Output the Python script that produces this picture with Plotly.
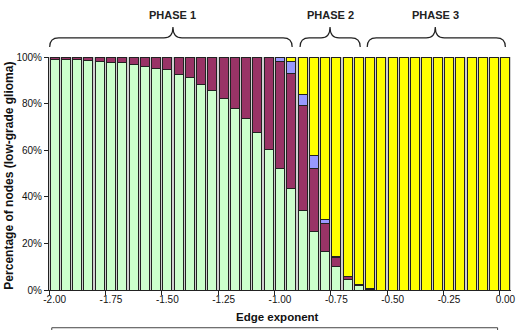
import plotly.graph_objects as go

# ---- data ----
edge_exponent = [-2.00, -1.95, -1.90, -1.85, -1.80, -1.75, -1.70, -1.65, -1.60, -1.55,
                 -1.50, -1.45, -1.40, -1.35, -1.30, -1.25, -1.20, -1.15, -1.10, -1.05,
                 -1.00, -0.95, -0.90, -0.85, -0.80, -0.75, -0.70, -0.65, -0.60, -0.55,
                 -0.50, -0.45, -0.40, -0.35, -0.30, -0.25, -0.20, -0.15, -0.10, -0.05,
                 0.00]

series_green = [99.0, 99.0, 99.0, 98.4, 98.0, 97.7, 97.7, 96.9, 95.8, 95.1,
                94.5, 92.7, 91.0, 88.4, 85.8, 82.1, 78.1, 73.4, 67.5, 60.3,
                52.1, 43.6, 34.3, 25.0, 16.5, 10.0, 4.6, 1.9, 0.3, 0.0,
                0.0, 0.0, 0.0, 0.0, 0.0, 0.0, 0.0, 0.0, 0.0, 0.0, 0.0]
series_maroon = [1.0, 1.0, 1.0, 1.6, 2.0, 2.3, 2.3, 3.1, 4.2, 4.9,
                 5.5, 7.3, 9.0, 11.6, 14.2, 17.9, 21.9, 26.6, 32.5, 39.4,
                 46.1, 49.2, 45.1, 27.2, 12.1, 3.9, 1.2, 0.6, 0.4, 0.0,
                 0.0, 0.0, 0.0, 0.0, 0.0, 0.0, 0.0, 0.0, 0.0, 0.0, 0.0]
series_blue = [0.0, 0.0, 0.0, 0.0, 0.0, 0.0, 0.0, 0.0, 0.0, 0.0,
               0.0, 0.0, 0.0, 0.0, 0.0, 0.0, 0.0, 0.0, 0.0, 0.3,
               1.8, 5.4, 4.3, 5.7, 1.7, 0.3, 0.0, 0.0, 0.0, 0.0,
               0.0, 0.0, 0.0, 0.0, 0.0, 0.0, 0.0, 0.0, 0.0, 0.0, 0.0]
series_yellow = [0.0, 0.0, 0.0, 0.0, 0.0, 0.0, 0.0, 0.0, 0.0, 0.0,
                 0.0, 0.0, 0.0, 0.0, 0.0, 0.0, 0.0, 0.0, 0.0, 0.0,
                 0.0, 1.8, 16.3, 42.1, 69.7, 85.8, 94.2, 97.5, 99.3, 100.0,
                 100.0, 100.0, 100.0, 100.0, 100.0, 100.0, 100.0, 100.0, 100.0, 100.0, 100.0]

tick_values = [-2.00, -1.75, -1.50, -1.25, -1.00, -0.75, -0.50, -0.25, 0.00]
tick_labels = ["-2.00", "-1.75", "-1.50", "-1.25", "-1.00", "-0.75", "-0.50", "-0.25", "0.00"]
y_tick_values = [0, 20, 40, 60, 80, 100]
y_tick_labels = ["0%", "20%", "40%", "60%", "80%", "100%"]

phases = ["PHASE 1", "PHASE 2", "PHASE 3"]
# brace spans in x-axis units (left, right, centre)
phase_spans = [(-2.022, -0.946, -1.475), (-0.911, -0.644, -0.778), (-0.613, 0.000, -0.311)]

FONT = "Liberation Sans, Arial, sans-serif"
colors = ["#ccffcc", "#993366", "#9999ff", "#ffff00"]

fig = go.Figure()
for vals, col in zip([series_green, series_maroon, series_blue, series_yellow], colors):
    fig.add_trace(go.Bar(
        x=edge_exponent, y=vals,
        marker=dict(color=col, line=dict(color="#222222", width=1)),
        showlegend=False,
    ))

# braces
y_end, y_flat, y_peak = 1.043, 1.082, 1.129
dx = 0.04
shapes = []
for (x0, x1, xm) in phase_spans:
    path = (f"M {x0},{y_end} Q {x0},{y_flat} {x0+dx},{y_flat} "
            f"L {xm-dx},{y_flat} Q {xm},{y_flat} {xm},{y_peak} "
            f"Q {xm},{y_flat} {xm+dx},{y_flat} "
            f"L {x1-dx},{y_flat} Q {x1},{y_flat} {x1},{y_end}")
    shapes.append(dict(type="path", path=path, xref="x", yref="paper",
                       line=dict(color="#222222", width=1.2)))

# legend box (cut off at bottom)
shapes.append(dict(type="rect", xref="paper", yref="paper",
                   x0=0.006, x1=0.971, y0=-0.162, y1=-0.5,
                   line=dict(color="#444444", width=1), fillcolor="rgba(0,0,0,0)"))

annotations = []
for name, (x0, x1, xm) in zip(phases, phase_spans):
    annotations.append(dict(text=f"<b>{name}</b>", x=xm, y=1.180, xref="x", yref="paper",
                            showarrow=False, font=dict(family=FONT, size=11, color="#222222"),
                            xanchor="center", yanchor="middle"))
annotations.append(dict(text="<b>Edge exponent</b>", x=0.495, y=-0.115, xref="paper", yref="paper",
                        showarrow=False, font=dict(family=FONT, size=11.5, color="#111111"),
                        xanchor="center", yanchor="middle"))
annotations.append(dict(text="<b>Percentage of nodes (low-grade glioma)</b>", x=-0.087, y=0.49,
                        xref="paper", yref="paper", textangle=-90,
                        showarrow=False, font=dict(family=FONT, size=12, color="#111111"),
                        xanchor="center", yanchor="middle"))

fig.update_layout(
    width=518, height=330,
    margin=dict(l=49, r=7, t=57, b=40, autoexpand=False),
    barmode="stack", bargap=0.2,
    plot_bgcolor="#d0d0d0", paper_bgcolor="white",
    shapes=shapes, annotations=annotations,
    xaxis=dict(range=[-2.025, 0.025], tickmode="array", tickvals=tick_values, ticktext=tick_labels,
               ticks="", showline=True, linecolor="#222222", linewidth=1, showgrid=False,
               zeroline=False, tickfont=dict(family=FONT, size=10, color="#111111"),
               minor=dict(tickmode="linear", tick0=-2.025, dtick=0.25, ticks="outside",
                          ticklen=4, tickcolor="#222222", showgrid=False),
               automargin=False),
    yaxis=dict(range=[0, 100], tickmode="array", tickvals=y_tick_values, ticktext=y_tick_labels,
               ticks="outside", ticklen=4, tickcolor="#222222", showline=True, linecolor="#222222",
               linewidth=1, showgrid=False, zeroline=False,
               tickfont=dict(family=FONT, size=10, color="#111111"), automargin=False),
)

fig.write_html("out.html")
